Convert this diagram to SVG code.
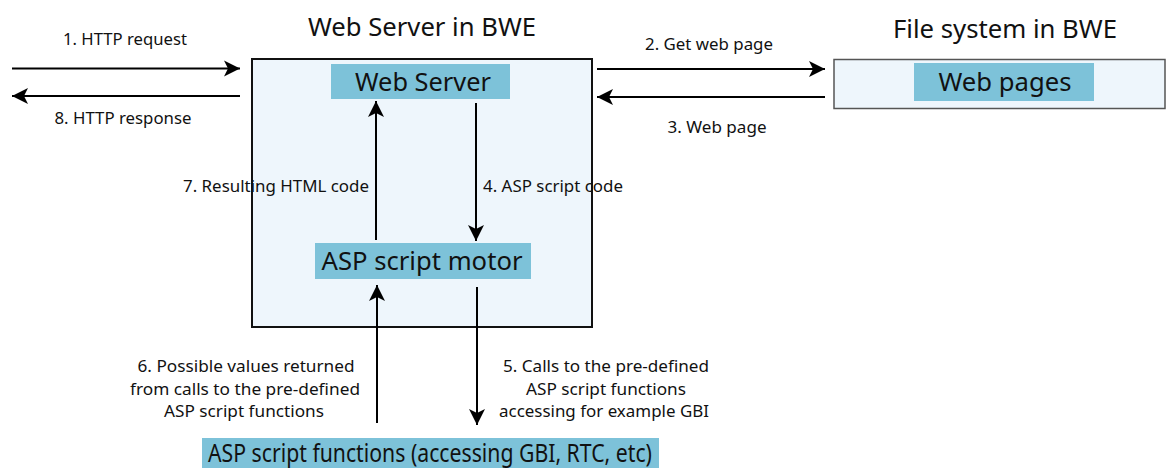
<svg xmlns="http://www.w3.org/2000/svg" width="1166" height="468" viewBox="0 0 1166 468">
<style>
.t{font-family:"Noto Sans","Open Sans","DejaVu Sans",sans-serif;fill:#111}
.s{font-size:17px}
.b{font-size:25px}
.c{stroke:#000;stroke-width:2;fill:none}
.cont{fill:#eef6fc;stroke:#111;stroke-width:2}
.lab{fill:#7dc2d9}
</style>
<defs>
<marker id="ah" viewBox="-17 -9 19 18" markerWidth="19" markerHeight="18" refX="0" refY="0" orient="auto" markerUnits="userSpaceOnUse">
<path d="M0,0 L-16,-8 L-12,0 L-16,8 Z" fill="#000"/>
</marker>
</defs>
<rect width="1166" height="468" fill="#fff"/>

<g id="webserver-bwe">
<text class="t" x="422" y="36" font-size="26" text-anchor="middle" textLength="228" lengthAdjust="spacingAndGlyphs">Web Server in BWE</text>
<rect class="cont" x="252" y="59" width="340" height="268"/>
</g>
<g id="filesystem-bwe">
<text class="t" x="1005" y="38" font-size="26" text-anchor="middle" textLength="224" lengthAdjust="spacingAndGlyphs">File system in BWE</text>
<rect x="834" y="59.5" width="331" height="49" fill="#eef6fc" stroke="#555" stroke-width="1.5"/>
</g>
<g id="web-server">
<rect class="lab" x="331" y="64" width="179" height="35"/>
<text class="t b" x="423" y="91" text-anchor="middle" textLength="136" lengthAdjust="spacingAndGlyphs">Web Server</text>
</g>
<g id="web-pages">
<rect class="lab" x="914" y="63" width="180" height="38"/>
<text class="t b" x="1005" y="91" text-anchor="middle" textLength="133" lengthAdjust="spacingAndGlyphs">Web pages</text>
</g>
<g id="asp-motor">
<rect class="lab" x="315" y="243" width="216" height="36"/>
<text class="t b" x="422" y="270" text-anchor="middle" textLength="201" lengthAdjust="spacingAndGlyphs">ASP script motor</text>
</g>
<g id="asp-functions">
<rect class="lab" x="202" y="438" width="457" height="30"/>
<text class="t b" x="430" y="462" text-anchor="middle" textLength="444" lengthAdjust="spacingAndGlyphs">ASP script functions (accessing GBI, RTC, etc)</text>
</g>

<g id="connectors">
<line class="c" x1="12" y1="68.5" x2="240" y2="68.5" marker-end="url(#ah)"/>
<line class="c" x1="240" y1="96" x2="12" y2="96" marker-end="url(#ah)"/>
<line class="c" x1="597" y1="69" x2="825" y2="69" marker-end="url(#ah)"/>
<line class="c" x1="825" y1="97" x2="597" y2="97" marker-end="url(#ah)"/>
<line class="c" x1="376" y1="240" x2="376" y2="101" marker-end="url(#ah)"/>
<line class="c" x1="476" y1="103" x2="476" y2="241" marker-end="url(#ah)"/>
<line class="c" x1="377" y1="423" x2="377" y2="285" marker-end="url(#ah)"/>
<line class="c" x1="477" y1="287" x2="477" y2="425" marker-end="url(#ah)"/>
</g>

<g id="labels">
<text class="t s" x="125" y="45" text-anchor="middle" textLength="124" lengthAdjust="spacingAndGlyphs">1. HTTP request</text>
<text class="t s" x="123" y="124" text-anchor="middle" textLength="137" lengthAdjust="spacingAndGlyphs">8. HTTP response</text>
<text class="t s" x="709" y="50" text-anchor="middle" textLength="128" lengthAdjust="spacingAndGlyphs">2. Get web page</text>
<text class="t s" x="717" y="133" text-anchor="middle" textLength="99" lengthAdjust="spacingAndGlyphs">3. Web page</text>
<text class="t s" x="276" y="192" text-anchor="middle" textLength="186" lengthAdjust="spacingAndGlyphs">7. Resulting HTML code</text>
<text class="t s" x="553" y="192" text-anchor="middle" textLength="140" lengthAdjust="spacingAndGlyphs">4. ASP script code</text>
<text class="t s" x="246" y="372" text-anchor="middle" textLength="217" lengthAdjust="spacingAndGlyphs">6. Possible values returned</text>
<text class="t s" x="245" y="395" text-anchor="middle" textLength="230" lengthAdjust="spacingAndGlyphs">from calls to the pre-defined</text>
<text class="t s" x="244" y="417" text-anchor="middle" textLength="160" lengthAdjust="spacingAndGlyphs">ASP script functions</text>
<text class="t s" x="606" y="372" text-anchor="middle" textLength="206" lengthAdjust="spacingAndGlyphs">5. Calls to the pre-defined</text>
<text class="t s" x="606" y="395" text-anchor="middle" textLength="160" lengthAdjust="spacingAndGlyphs">ASP script functions</text>
<text class="t s" x="604" y="417" text-anchor="middle" textLength="210" lengthAdjust="spacingAndGlyphs">accessing for example GBI</text>
</g>
</svg>
